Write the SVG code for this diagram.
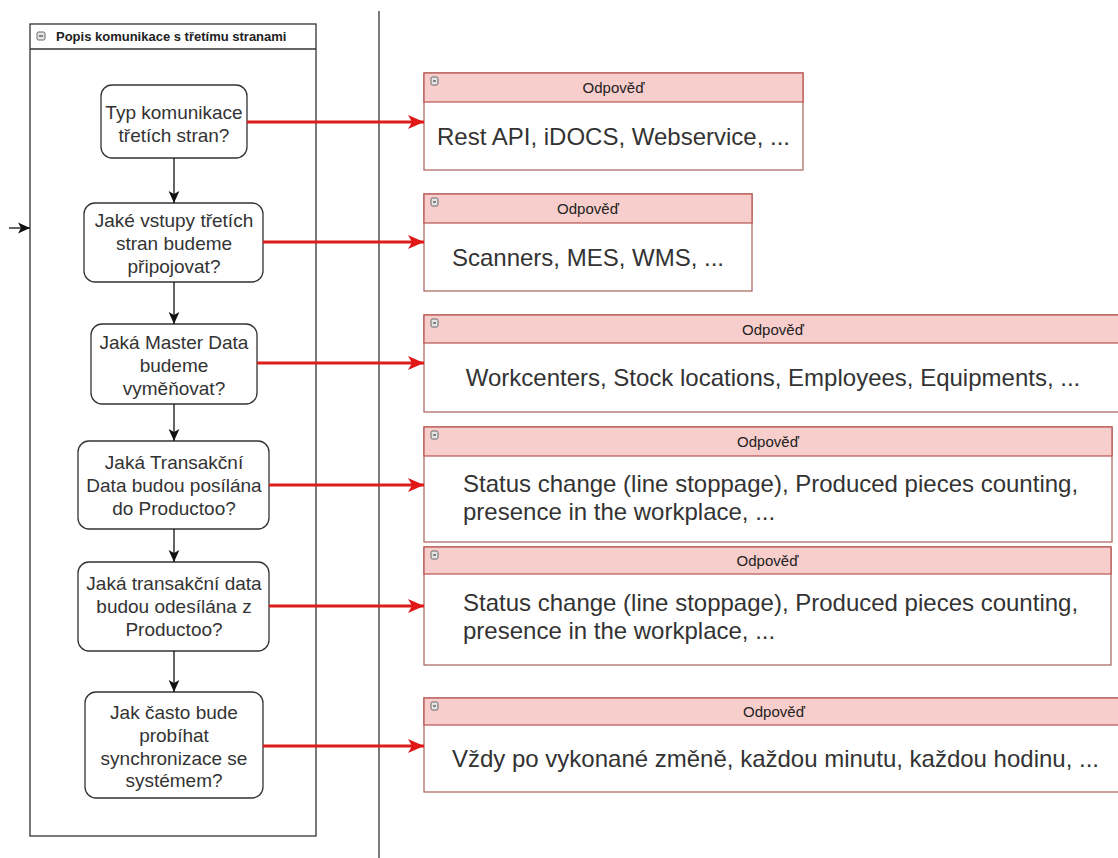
<svg xmlns="http://www.w3.org/2000/svg" width="1118" height="858" viewBox="0 0 1118 858">
  <style>
    .bg { fill: #ffffff; }
    .pool { fill: #ffffff; stroke: #333333; stroke-width: 1.3; }
    .pool-title { font-family: "Liberation Sans", Arial, sans-serif; font-size: 13px; font-weight: bold; fill: #222222; }
    .step { fill: #ffffff; stroke: #333333; stroke-width: 1.3; }
    .step-text { font-family: "Liberation Sans", Arial, sans-serif; font-size: 19px; fill: #333333; text-anchor: middle; }
    .ans-body { fill: #ffffff; stroke: #a8605b; stroke-width: 1.2; }
    .ans-head { fill: #f8cecc; stroke: #b85450; stroke-width: 1.2; }
    .ans-title { font-family: "Liberation Sans", Arial, sans-serif; font-size: 15px; fill: #222222; text-anchor: middle; }
    .ans-text { font-family: "Liberation Sans", Arial, sans-serif; font-size: 24px; fill: #333333; }
    .mid { text-anchor: middle; }
    .toggle { fill: #e4e4e4; stroke: #666666; stroke-width: 1; }
    .toggle-bar { stroke: #444444; stroke-width: 1.2; }
    .flow { fill: none; stroke: #111111; stroke-width: 1.3; }
    .link { fill: none; stroke: #dd1c1c; stroke-width: 3; }
    .lane { fill: none; stroke: #333333; stroke-width: 1.3; }
  </style>
  <defs>
    <marker id="arrowBlack" markerUnits="userSpaceOnUse" markerWidth="12" markerHeight="12" viewBox="0 0 10 10" refX="10" refY="5" orient="auto">
      <path d="M0,0.5 L10,5 L0,9.5 L2.5,5 Z" fill="#111111"/>
    </marker>
    <marker id="arrowRed" markerUnits="userSpaceOnUse" markerWidth="16" markerHeight="14" viewBox="0 0 16 14" refX="16" refY="7" orient="auto">
      <path d="M0,0 L16,7 L0,14 L4,7 Z" fill="#e01818"/>
    </marker>
  </defs>

  <rect class="bg" x="0" y="0" width="1118" height="858"/>

  <!-- swimlane divider -->
  <line class="lane" x1="379" y1="11" x2="379" y2="858"/>

  <!-- question pool -->
  <g id="pool">
    <rect class="pool" x="30" y="24" width="286" height="812"/>
    <line class="pool" x1="30" y1="49" x2="316" y2="49"/>
    <rect class="toggle" x="37" y="32" width="8" height="8" rx="1.5"/>
    <line class="toggle-bar" x1="39" y1="36" x2="43" y2="36"/>
    <text class="pool-title" x="56" y="41">Popis komunikace s třetímu stranami</text>
  </g>

  <!-- questions -->
  <g id="q1">
    <rect class="step" x="101" y="85" width="146" height="73" rx="11"/>
    <text class="step-text" x="174" y="119">Typ komunikace</text>
    <text class="step-text" x="174" y="142">třetích stran?</text>
  </g>
  <g id="q2">
    <rect class="step" x="84" y="203" width="179" height="79" rx="11"/>
    <text class="step-text" x="174" y="227">Jaké vstupy třetích</text>
    <text class="step-text" x="174" y="250">stran budeme</text>
    <text class="step-text" x="174" y="273">připojovat?</text>
  </g>
  <g id="q3">
    <rect class="step" x="91" y="324" width="166" height="80" rx="11"/>
    <text class="step-text" x="174" y="349">Jaká Master Data</text>
    <text class="step-text" x="174" y="372">budeme</text>
    <text class="step-text" x="174" y="395">vyměňovat?</text>
  </g>
  <g id="q4">
    <rect class="step" x="78" y="441" width="191" height="88" rx="11"/>
    <text class="step-text" x="174" y="469">Jaká Transakční</text>
    <text class="step-text" x="174" y="492">Data budou posílána</text>
    <text class="step-text" x="174" y="515">do Productoo?</text>
  </g>
  <g id="q5">
    <rect class="step" x="78" y="562" width="191" height="89" rx="11"/>
    <text class="step-text" x="174" y="590">Jaká transakční data</text>
    <text class="step-text" x="174" y="613">budou odesílána z</text>
    <text class="step-text" x="174" y="636">Productoo?</text>
  </g>
  <g id="q6">
    <rect class="step" x="85" y="692" width="178" height="106" rx="11"/>
    <text class="step-text" x="174" y="719">Jak často bude</text>
    <text class="step-text" x="174" y="742">probíhat</text>
    <text class="step-text" x="174" y="765">synchronizace se</text>
    <text class="step-text" x="174" y="787">systémem?</text>
  </g>

  <!-- answers -->
  <g id="a1">
    <rect class="ans-body" x="424" y="73" width="379" height="97"/>
    <rect class="ans-head" x="424" y="73" width="379" height="29"/>
    <rect class="toggle" x="431" y="77" width="7" height="8" rx="1.5"/>
    <line class="toggle-bar" x1="433" y1="81" x2="436" y2="81"/>
    <text class="ans-title" x="613.5" y="93">Odpověď</text>
    <text class="ans-text mid" x="613.5" y="144.5">Rest API, iDOCS, Webservice, ...</text>
  </g>
  <g id="a2">
    <rect class="ans-body" x="424" y="194" width="328" height="97"/>
    <rect class="ans-head" x="424" y="194" width="328" height="29"/>
    <rect class="toggle" x="431" y="198" width="7" height="8" rx="1.5"/>
    <line class="toggle-bar" x1="433" y1="202" x2="436" y2="202"/>
    <text class="ans-title" x="588" y="214">Odpověď</text>
    <text class="ans-text mid" x="588" y="265.5">Scanners, MES, WMS, ...</text>
  </g>
  <g id="a3">
    <rect class="ans-body" x="424" y="315" width="698" height="97"/>
    <rect class="ans-head" x="424" y="315" width="698" height="28"/>
    <rect class="toggle" x="431" y="319" width="7" height="8" rx="1.5"/>
    <line class="toggle-bar" x1="433" y1="323" x2="436" y2="323"/>
    <text class="ans-title" x="773" y="334.5">Odpověď</text>
    <text class="ans-text mid" x="773" y="386">Workcenters, Stock locations, Employees, Equipments, ...</text>
  </g>
  <g id="a4">
    <rect class="ans-body" x="424" y="427" width="688" height="115"/>
    <rect class="ans-head" x="424" y="427" width="688" height="29"/>
    <rect class="toggle" x="431" y="431" width="7" height="8" rx="1.5"/>
    <line class="toggle-bar" x1="433" y1="435" x2="436" y2="435"/>
    <text class="ans-title" x="768" y="447">Odpověď</text>
    <text class="ans-text" x="463" y="491.5">Status change (line stoppage), Produced pieces counting,</text>
    <text class="ans-text" x="463" y="519.5">presence in the workplace, ...</text>
  </g>
  <g id="a5">
    <rect class="ans-body" x="424" y="547" width="687" height="118"/>
    <rect class="ans-head" x="424" y="547" width="687" height="27"/>
    <rect class="toggle" x="431" y="551" width="7" height="8" rx="1.5"/>
    <line class="toggle-bar" x1="433" y1="555" x2="436" y2="555"/>
    <text class="ans-title" x="767.5" y="566">Odpověď</text>
    <text class="ans-text" x="463" y="611">Status change (line stoppage), Produced pieces counting,</text>
    <text class="ans-text" x="463" y="638.5">presence in the workplace, ...</text>
  </g>
  <g id="a6">
    <rect class="ans-body" x="424" y="698" width="700" height="94"/>
    <rect class="ans-head" x="424" y="698" width="700" height="27"/>
    <rect class="toggle" x="431" y="702" width="7" height="8" rx="1.5"/>
    <line class="toggle-bar" x1="433" y1="706" x2="436" y2="706"/>
    <text class="ans-title" x="774" y="717">Odpověď</text>
    <text class="ans-text mid" x="775.5" y="766.5">Vždy po vykonané změně, každou minutu, každou hodinu, ...</text>
  </g>

  <!-- connectors -->
  <g id="connectors">
    <line class="flow" x1="9" y1="228" x2="30" y2="228" marker-end="url(#arrowBlack)"/>
    <line class="flow" x1="174" y1="158" x2="174" y2="203" marker-end="url(#arrowBlack)"/>
    <line class="flow" x1="174" y1="282" x2="174" y2="324" marker-end="url(#arrowBlack)"/>
    <line class="flow" x1="174" y1="404" x2="174" y2="441" marker-end="url(#arrowBlack)"/>
    <line class="flow" x1="174" y1="529" x2="174" y2="562" marker-end="url(#arrowBlack)"/>
    <line class="flow" x1="174" y1="651" x2="174" y2="692" marker-end="url(#arrowBlack)"/>

    <line class="link" x1="247" y1="122" x2="424" y2="122" marker-end="url(#arrowRed)"/>
    <line class="link" x1="263" y1="242" x2="424" y2="242" marker-end="url(#arrowRed)"/>
    <line class="link" x1="257" y1="363" x2="424" y2="363" marker-end="url(#arrowRed)"/>
    <line class="link" x1="269" y1="485" x2="424" y2="485" marker-end="url(#arrowRed)"/>
    <line class="link" x1="269" y1="606" x2="424" y2="606" marker-end="url(#arrowRed)"/>
    <line class="link" x1="263" y1="746" x2="424" y2="746" marker-end="url(#arrowRed)"/>
  </g>
</svg>
